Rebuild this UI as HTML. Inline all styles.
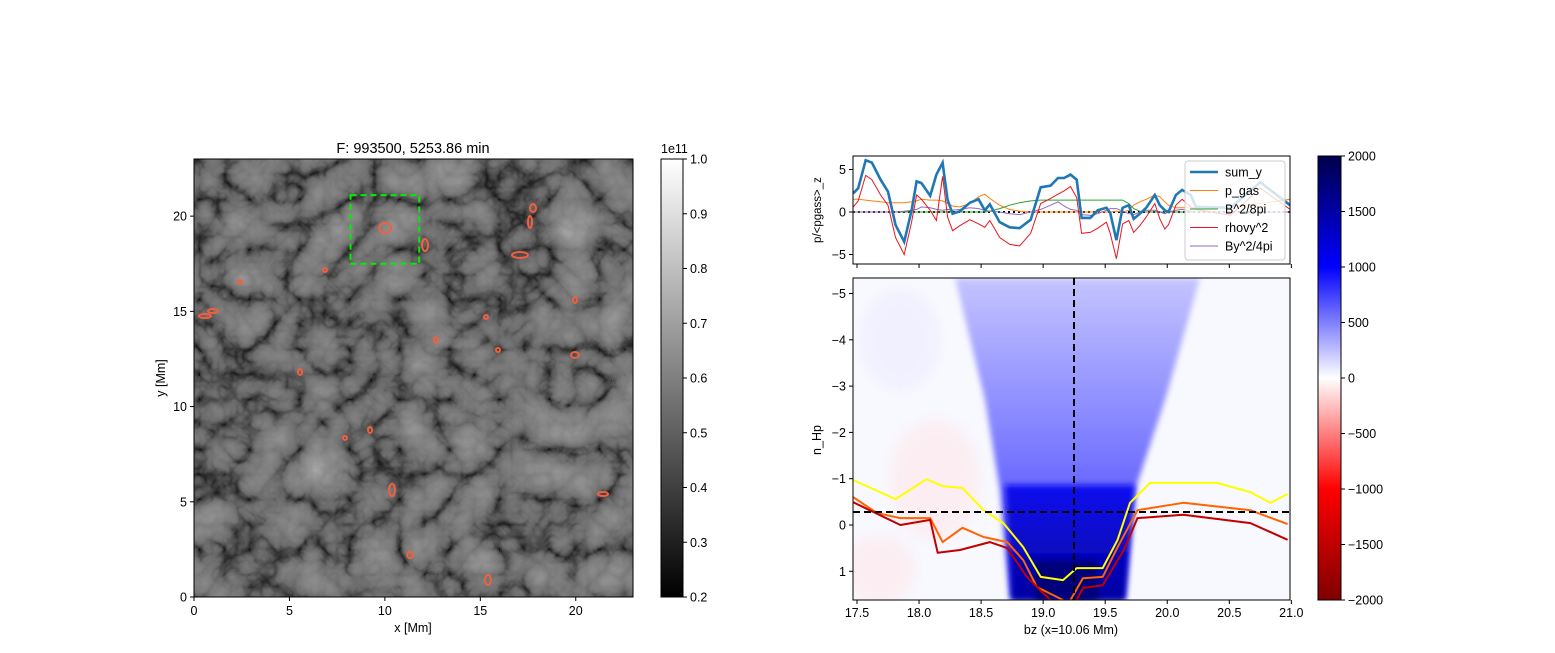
<!DOCTYPE html>
<html><head><meta charset="utf-8"><style>
body{margin:0;background:#fff;font-family:"Liberation Sans","DejaVu Sans",sans-serif}
svg text{font-family:"Liberation Sans","DejaVu Sans",sans-serif;font-size:12.5px;fill:#000}
</style></head><body>
<svg id="fig" width="1555" height="648" xmlns="http://www.w3.org/2000/svg">
<defs>
<filter id="gran" x="0" y="0" width="100%" height="100%" color-interpolation-filters="sRGB">
<feTurbulence type="turbulence" baseFrequency="0.02" numOctaves="4" seed="11" result="t"/>
<feColorMatrix type="matrix" values="1 0 0 0 0  1 0 0 0 0  1 0 0 0 0  0 0 0 0 1"/>
<feComponentTransfer><feFuncR type="table" tableValues="0.08 0.28 0.42 0.48 0.52 0.56 0.6 0.66"/><feFuncG type="table" tableValues="0.08 0.28 0.42 0.48 0.52 0.56 0.6 0.66"/><feFuncB type="table" tableValues="0.08 0.28 0.42 0.48 0.52 0.56 0.6 0.66"/></feComponentTransfer>
</filter>
<filter id="blur"><feGaussianBlur stdDeviation="6"/></filter>
<filter id="blur2"><feGaussianBlur stdDeviation="3"/></filter>
<linearGradient id="gcb" x1="0" y1="1" x2="0" y2="0"><stop offset="0" stop-color="#000"/><stop offset="1" stop-color="#fff"/></linearGradient>
<linearGradient id="scb" x1="0" y1="0" x2="0" y2="1">
<stop offset="0" stop-color="#00004c"/><stop offset="0.25" stop-color="#0000ff"/><stop offset="0.5" stop-color="#ffffff"/><stop offset="0.75" stop-color="#ff0000"/><stop offset="1" stop-color="#800000"/></linearGradient>
<linearGradient id="funnel" x1="0" y1="0" x2="0" y2="1"><stop offset="0" stop-color="#c4c4ff"/><stop offset="0.5" stop-color="#8080ff"/><stop offset="1" stop-color="#3030ff"/></linearGradient>
<linearGradient id="core" x1="0" y1="0" x2="0" y2="1"><stop offset="0" stop-color="#1010f0"/><stop offset="1" stop-color="#0000a0"/></linearGradient>
<clipPath id="cl1"><rect x="194" y="159" width="439" height="438"/></clipPath>
<clipPath id="cl2"><rect x="853" y="156" width="437" height="108"/></clipPath>
<clipPath id="cl3"><rect x="853" y="278" width="437" height="322"/></clipPath>
</defs>
<g id="left"></g>
<g id="tr"></g>
<g id="br"></g>
</svg>
<script>
// ---- top panel data (x in Mm) ----
const sumX=[17.47,17.51,17.57,17.62,17.69,17.75,17.81,17.88,17.94,17.98,18.02,18.09,18.14,18.19,18.23,18.27,18.33,18.41,18.48,18.53,18.57,18.65,18.73,18.81,18.90,18.98,19.06,19.12,19.17,19.22,19.27,19.31,19.38,19.44,19.51,19.54,19.59,19.64,19.69,19.73,19.78,19.83,19.90,19.94,19.98,20.01,20.07,20.12,20.19,20.23,20.51,20.75,20.99];
const sumY=[2.2,2.8,6.1,5.8,3.8,2.4,-1.5,-3.5,0.2,3.6,3.4,1.9,4.4,5.8,1.4,-0.2,0.1,1.1,1.5,0.2,0.9,-1.2,-1.8,-1.9,-0.9,2.9,3.1,4.0,4.0,4.4,3.8,-0.7,-0.7,0.2,0.5,-0.1,-3.3,0.5,0.8,-0.8,-0.2,0.5,2.0,0.8,0.2,0.0,2.0,2.6,2.0,0.6,0.5,3.5,0.8];
const rhoY=[0.6,1.3,4.3,3.8,2.0,0.8,-3.0,-5.0,-1.2,2.0,1.5,0.2,-1.0,4.2,-0.6,-2.2,-1.6,-0.9,-1.4,-1.8,-1.0,-3.0,-3.8,-4.0,-2.5,1.0,1.6,2.1,2.5,3.0,1.7,-2.5,-2.4,-1.9,-1.2,-2.5,-5.5,-1.4,-1.0,-2.4,-1.6,-0.6,1.0,-0.8,-2.0,-1.5,0.8,1.5,0.6,0.3,-0.4,2.8,0.3];
const pgasY=[1.5,1.5,1.4,1.3,1.2,1.1,1.1,1.1,1.2,1.3,1.5,1.4,1.4,1.3,1.0,0.7,0.6,1.0,1.8,2.1,1.6,0.8,0.3,0.1,0.0,0.0,0.0,0.0,0.0,0.0,0.0,0.0,0.0,0.0,0.0,0.0,0.1,0.0,0.2,0.8,1.2,1.5,2.0,1.8,1.2,0.8,0.5,0.5,0.5,0.5,0.6,1.0,1.5];
const bmagY=[0,0,0,0,0,0,0,0,0,0,0,0,0,0,0,0,0,0,0,0,0.1,0.4,0.8,1.1,1.3,1.4,1.4,1.4,1.4,1.4,1.4,1.4,1.4,1.4,1.4,1.4,1.4,1.4,1.0,0.4,0.1,0,0,0,0,0,0,0,0,0,0,0,0];
const byY=[0,0,0,0,0,0,0,0.1,0.2,0.3,0.6,0.5,0.3,0.2,0.3,0.2,0.3,0.5,0.4,0.2,0.1,0,-0.2,-0.3,0,0.3,0.8,1.2,0.7,0.3,0.2,-0.3,-0.4,-0.2,0.2,0.4,0.4,0.1,-0.2,-0.3,0,0.2,0.2,0,-0.2,0,0.2,0.3,0.1,0,0,0,0];
// ---- bottom contour data ----
const yelX=[17.47,17.81,18.06,18.19,18.35,18.52,18.68,18.84,18.98,19.16,19.27,19.48,19.60,19.70,19.86,20.13,20.40,20.67,20.83,20.97];
const yelV=[-0.97,-0.56,-0.99,-0.84,-0.80,-0.32,-0.04,0.48,1.12,1.19,0.93,0.93,0.32,-0.48,-0.91,-0.91,-0.91,-0.71,-0.48,-0.67];
const oraLX=[17.47,17.66,17.85,18.09,18.19,18.35,18.52,18.71,18.84,18.95,19.16];
const oraLV=[-0.60,-0.26,-0.15,-0.15,0.37,0.06,0.26,0.37,0.76,1.34,1.62];
const oraRX=[19.22,19.32,19.48,19.60,19.76,20.13,20.67,20.97];
const oraRV=[1.62,1.15,1.12,0.48,-0.32,-0.48,-0.32,-0.02];
const redLX=[17.47,17.85,18.09,18.15,18.33,18.57,18.71,18.87,19.00,19.06];
const redLV=[-0.49,0,-0.11,0.60,0.54,0.37,0.50,1.12,1.47,1.62];
const redRX=[19.27,19.32,19.48,19.65,19.76,20.13,20.67,20.97];
const redRV=[1.62,1.36,1.30,0.54,-0.15,-0.22,-0.04,0.32];
const lTicks=[0,5,10,15,20];
const cbTicks=[0.2,0.3,0.4,0.5,0.6,0.7,0.8,0.9,1.0];
const bxTicks=[17.5,18.0,18.5,19.0,19.5,20.0,20.5,21.0];
const byTicks=[-5,-4,-3,-2,-1,0,1];
const tyTicks=[-5,0,5];
const scbTicks=[2000,1500,1000,500,0,-500,-1000,-1500,-2000];

const NS='http://www.w3.org/2000/svg';
function el(p,t,a,txt){const e=document.createElementNS(NS,t);for(const k in a)e.setAttribute(k,a[k]);if(txt!==undefined)e.textContent=txt;p.appendChild(e);return e;}
const lx=v=>194+v*439/23, ly=v=>597-v*438/23;
const cby=v=>597-(v-0.2)/0.8*438;
const bx=v=>857+(v-17.5)*124.1;
const ty=v=>212-v*8.5;
const byS=v=>525+v*46.3;
const sy=v=>156+(2000-v)/4000*444;
function pts(xs,ys,fy){return xs.map((x,i)=>bx(x).toFixed(1)+','+fy(ys[i]).toFixed(1)).join(' ');}

// ===== left panel =====
const L=document.getElementById('left');
let g=el(L,'g',{'clip-path':'url(#cl1)'});
let r=el(g,'rect',{x:194,y:159,width:439,height:438,fill:'#666',filter:'url(#gran)'});

const blobs=[[385,228,6,5],[425,245,3,6],[520,255,8,3],[530,222,2,6],[575,300,2,3],[436,340,2,3],[498,350,2,2],[575,355,4,3],[300,372,2,3],[345,438,2,2],[370,430,2,3],[392,490,3,6],[603,494,5,2],[410,555,3,3],[488,580,3,5],[240,282,2,2],[325,270,2,2],[486,317,2,2],[205,316,6,2],[213,311,5,2],[533,208,3,4]];
blobs.forEach(b=>{const c=el(g,'ellipse',{cx:b[0],cy:b[1],rx:b[2],ry:b[3],fill:'none',stroke:'#f06040','stroke-width':2});});
let box=el(L,'rect',{x:lx(8.2),y:ly(21.1),width:lx(11.8)-lx(8.2),height:ly(17.5)-ly(21.1),fill:'none',stroke:'#00ee00','stroke-width':2,'stroke-dasharray':'6,4'});

el(L,'rect',{x:194,y:159,width:439,height:438,fill:'none',stroke:'#000','stroke-width':1});
lTicks.forEach(t=>{el(L,'line',{x1:lx(t),x2:lx(t),y1:597,y2:601,stroke:'#000'});
 let a=el(L,'text',{x:lx(t),y:615,'text-anchor':'middle'},t);
 el(L,'line',{x1:190,x2:194,y1:ly(t),y2:ly(t),stroke:'#000'});
 let b=el(L,'text',{x:187,y:ly(t)+4.5,'text-anchor':'end'},t);});
let t1=el(L,'text',{x:413,y:153,'text-anchor':'middle',style:'font-size:14.5px'},'F: 993500, 5253.86 min');
let t2=el(L,'text',{x:413,y:632,'text-anchor':'middle'},'x [Mm]');
let t3=el(L,'text',{x:165,y:378,'text-anchor':'middle',transform:'rotate(-90 165 378)'},'y [Mm]');
let cb=el(L,'rect',{x:661,y:159,width:22,height:438,fill:'url(#gcb)',stroke:'#000','stroke-width':1});
cbTicks.forEach(t=>{el(L,'line',{x1:683,x2:687,y1:cby(t),y2:cby(t),stroke:'#000'});let a=el(L,'text',{x:690,y:cby(t)+4.5},t.toFixed(1));});
let ex=el(L,'text',{x:661,y:153},'1e11');

// ===== top right =====
const T=document.getElementById('tr');
g=el(T,'g',{'clip-path':'url(#cl2)'});
el(g,'line',{x1:853,x2:1290,y1:ty(0),y2:ty(0),stroke:'#000','stroke-width':2,'stroke-dasharray':'2,3'});
const series=[[pgasY,'#ff7f0e',1,'p-gas-line'],[bmagY,'#2ca02c',1,'b2-8pi-line'],[byY,'#9467bd',1,'by2-4pi-line'],[rhoY,'#e8141e',1,'rhovy2-line'],[sumY,'#1f77b4',2.6,'sum-y-line']];
series.forEach(s=>{let p=el(g,'polyline',{points:pts(sumX,s[0],ty),fill:'none',stroke:s[1],'stroke-width':s[2]});});
el(T,'rect',{x:853,y:156,width:437,height:108,fill:'none',stroke:'#000'});
tyTicks.forEach(t=>{el(T,'line',{x1:849,x2:853,y1:ty(t),y2:ty(t),stroke:'#000'});let a=el(T,'text',{x:846,y:ty(t)+4.5,'text-anchor':'end'},t<0?'\u2212'+(-t):t);});
bxTicks.forEach(t=>el(T,'line',{x1:bx(t),x2:bx(t),y1:264,y2:268,stroke:'#000'}));
let tt=el(T,'text',{x:821,y:210,'text-anchor':'middle',transform:'rotate(-90 821 210)',style:'font-size:11.5px'},'p/<pgass>_z');
let lg=el(T,'g',{});
el(lg,'rect',{x:1185,y:161,width:100,height:99,rx:3,fill:'rgba(255,255,255,0.8)',stroke:'#ccc'});
const leg=[['sum_y','#1f77b4',2.6],['p_gas','#ff7f0e',1],['B^2/8pi','#2ca02c',1],['rhovy^2','#e8141e',1],['By^2/4pi','#9467bd',1]];
leg.forEach((l,i)=>{const y=172+i*18.5;el(lg,'line',{x1:1190,x2:1218,y1:y,y2:y,stroke:l[1],'stroke-width':l[2]});let a=el(lg,'text',{x:1225,y:y+4.5},l[0]);});

// ===== bottom right =====
const B=document.getElementById('br');
g=el(B,'g',{'clip-path':'url(#cl3)'});
el(g,'rect',{x:853,y:278,width:437,height:322,fill:'#f8f8ff'});
el(g,'ellipse',{cx:935,cy:480,rx:45,ry:60,fill:'#ffe4e4',opacity:0.5,filter:'url(#blur)'});
el(g,'ellipse',{cx:880,cy:570,rx:35,ry:35,fill:'#ffe4e4',opacity:0.5,filter:'url(#blur)'});
el(g,'ellipse',{cx:900,cy:340,rx:40,ry:50,fill:'#ececff',opacity:0.6,filter:'url(#blur)'});
let fn=el(g,'polygon',{points:'955,278 1200,278 1165,400 1135,490 1125,600 1010,600 1000,490 985,400',fill:'url(#funnel)',filter:'url(#blur2)'});

el(g,'polygon',{points:'1005,485 1135,485 1125,600 1012,600',fill:'url(#core)',filter:'url(#blur2)'});
el(g,'polygon',{points:'1035,560 1098,560 1098,600 1035,600',fill:'#00007a',filter:'url(#blur2)'});
[[yelX,yelV,'#ffff00','yellow-contour'],[oraLX,oraLV,'#ff6400','orange-contour-left'],[oraRX,oraRV,'#ff6400','orange-contour-right'],[redLX,redLV,'#c00000','red-contour-left'],[redRX,redRV,'#c00000','red-contour-right']].forEach(s=>{let p=el(g,'polyline',{points:pts(s[0],s[1],byS),fill:'none',stroke:s[2],'stroke-width':2,'stroke-linejoin':'round'});});
el(g,'line',{x1:853,x2:1290,y1:512,y2:512,stroke:'#000','stroke-width':2,'stroke-dasharray':'7,4'});
el(g,'line',{x1:1074,x2:1074,y1:278,y2:600,stroke:'#000','stroke-width':2,'stroke-dasharray':'7,4'});
el(B,'rect',{x:853,y:278,width:437,height:322,fill:'none',stroke:'#000'});
bxTicks.forEach(t=>{el(B,'line',{x1:bx(t),x2:bx(t),y1:600,y2:604,stroke:'#000'});let a=el(B,'text',{x:bx(t),y:617,'text-anchor':'middle'},t.toFixed(1));});
byTicks.forEach(t=>{el(B,'line',{x1:849,x2:853,y1:byS(t),y2:byS(t),stroke:'#000'});let a=el(B,'text',{x:846,y:byS(t)+4.5,'text-anchor':'end'},t<0?'\u2212'+(-t):t);});
let bt=el(B,'text',{x:1071,y:634,'text-anchor':'middle'},'bz (x=10.06 Mm)');
let bt2=el(B,'text',{x:821,y:440,'text-anchor':'middle',transform:'rotate(-90 821 440)'},'n_Hp');
let sc=el(B,'rect',{x:1318,y:156,width:23,height:444,fill:'url(#scb)',stroke:'#000'});
scbTicks.forEach(t=>{el(B,'line',{x1:1341,x2:1345,y1:sy(t),y2:sy(t),stroke:'#000'});let a=el(B,'text',{x:1348,y:sy(t)+4.5},t<0?'\u2212'+(-t):t);});
</script>
</body></html>
